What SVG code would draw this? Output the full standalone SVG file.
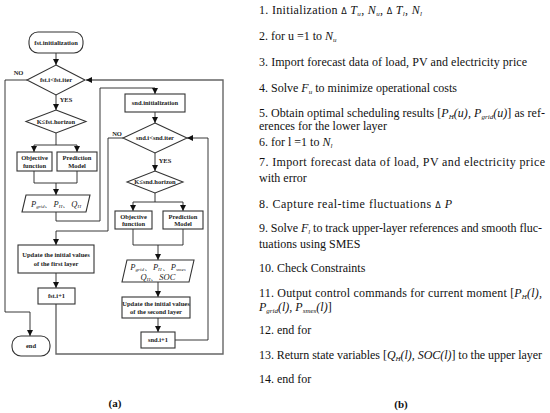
<svg xmlns="http://www.w3.org/2000/svg" width="550" height="413" viewBox="0 0 550 413">
<defs>
<marker id="ah" markerUnits="userSpaceOnUse" markerWidth="6" markerHeight="6" refX="6" refY="3" orient="auto">
<path d="M0,0 L6,3 L0,6 z" fill="#111"/>
</marker>
<style>
.box{fill:#fff;stroke:#333;stroke-width:1.1}
.ln{fill:none;stroke:#222;stroke-width:0.9}
.loop{fill:none;stroke:#666;stroke-width:1.4}
.fl{font-family:"Liberation Serif",serif;font-weight:bold;font-size:6.5px;text-anchor:middle;fill:#222}
.mv{font-family:"Liberation Serif",serif;font-style:italic;font-size:8.5px;text-anchor:middle;fill:#222}
.tx{font-family:"Liberation Serif",serif;font-size:12px;fill:#111}
.it{font-style:italic}
.sb{font-size:7px;font-style:italic}
.dl{font-family:"DejaVu Sans",sans-serif;font-size:8px}
.cap{font-family:"Liberation Serif",serif;font-weight:bold;font-size:11px;text-anchor:middle;fill:#111}
</style>
</defs>
<rect width="550" height="413" fill="#fff"/>

<g id="connectors">
<path class="ln" d="M56,53 V65" marker-end="url(#ah)"/>
<path class="ln" d="M56,95 V110" marker-end="url(#ah)"/>
<path class="ln" d="M27,80 H5 V312 H30 V336" marker-end="url(#ah)"/>
<path class="ln" d="M56,133 V145 M34,145 H77"/>
<path class="ln" d="M34,145 V152" marker-end="url(#ah)"/>
<path class="ln" d="M77,145 V152" marker-end="url(#ah)"/>
<path class="ln" d="M34,171 V183 H77 V171"/>
<path class="ln" d="M56,183 V195" marker-end="url(#ah)"/>
<path class="ln" d="M56,212 V221 H100 V88 H155 V94" marker-end="url(#ah)"/>
<path class="ln" d="M155,112 V123" marker-end="url(#ah)"/>
<path class="ln" d="M123,138 H108 V231 H56 V245" marker-end="url(#ah)"/>
<path class="ln" d="M155,153 V171" marker-end="url(#ah)"/>
<path class="ln" d="M155,193 V202 M133,202 H183"/>
<path class="ln" d="M133,202 V211" marker-end="url(#ah)"/>
<path class="ln" d="M183,202 V211" marker-end="url(#ah)"/>
<path class="ln" d="M133,229 V245 H183 V229"/>
<path class="ln" d="M158,245 V260" marker-end="url(#ah)"/>
<path class="ln" d="M158,282 V297" marker-end="url(#ah)"/>
<path class="ln" d="M158,318 V332" marker-end="url(#ah)"/>
<path class="ln" d="M175,340 H208 V138 H187" marker-end="url(#ah)"/>
<path class="ln" d="M56,273 V288" marker-end="url(#ah)"/>
<path class="loop" d="M56,304 V354 H223 V80 H86" marker-end="url(#ah)"/>
<text class="fl" x="18.5" y="74.5">NO</text>
<text class="fl" x="66" y="102">YES</text>
<text class="fl" x="117" y="135.5">NO</text>
<text class="fl" x="165" y="162.5">YES</text>
</g>

<g id="fst_init">
<rect class="box" x="29" y="32" width="54" height="21" rx="9"/>
<text class="fl" x="56" y="44.8">fst.initialization</text>
</g>
<g id="fst_iter">
<path class="box" d="M56,65 L85,80 L56,95 L27,80 Z"/>
<text class="fl" x="56" y="82.3">fst.i&lt;fst.iter</text>
</g>
<g id="fst_horizon">
<path class="box" d="M56,110 L86,121.5 L56,133 L26,121.5 Z"/>
<text class="fl" x="56" y="123.8">K≤fst.horizon</text>
</g>
<g id="fst_obj">
<rect class="box" x="17" y="152" width="35" height="19"/>
<text class="fl" x="34.5" y="160">Objective</text>
<text class="fl" x="34.5" y="167.5">function</text>
</g>
<g id="fst_pred">
<rect class="box" x="57" y="152" width="40" height="19"/>
<text class="fl" x="77" y="160">Prediction</text>
<text class="fl" x="77" y="167.5">Model</text>
</g>
<g id="fst_out">
<path class="box" d="M26,195 L90,195 L86,212 L22,212 Z"/>
<text class="mv" x="56" y="206.5">P<tspan font-size="5" dy="1.5">grid</tspan><tspan dy="-1.5">、P</tspan><tspan font-size="5" dy="1.5">H</tspan><tspan dy="-1.5">、Q</tspan><tspan font-size="5" dy="1.5">H</tspan></text>
</g>
<g id="fst_update">
<rect class="box" x="18" y="245" width="76" height="28"/>
<text class="fl" x="56" y="257">Update the initial values</text>
<text class="fl" x="56" y="266">of the first layer</text>
</g>
<g id="fst_inc">
<rect class="box" x="38" y="288" width="37" height="16"/>
<text class="fl" x="56.5" y="298.3">fst.i+1</text>
</g>
<g id="end">
<rect class="box" x="12" y="336" width="38" height="20" rx="9"/>
<text class="fl" x="31" y="348.3">end</text>
</g>

<g id="snd_init">
<rect class="box" x="125" y="94" width="60" height="18"/>
<text class="fl" x="155" y="105.3">snd.initialization</text>
</g>
<g id="snd_iter">
<path class="box" d="M155,123 L187,138 L155,153 L123,138 Z"/>
<text class="fl" x="155" y="140.3">snd.i&lt;snd.iter</text>
</g>
<g id="snd_horizon">
<path class="box" d="M155,171 L183,182 L155,193 L127,182 Z"/>
<text class="fl" x="155" y="184.3">K≤snd.horizon</text>
</g>
<g id="snd_obj">
<rect class="box" x="115" y="211" width="37" height="18"/>
<text class="fl" x="133.5" y="218.5">Objective</text>
<text class="fl" x="133.5" y="226">function</text>
</g>
<g id="snd_pred">
<rect class="box" x="163" y="211" width="40" height="18"/>
<text class="fl" x="183" y="218.5">Prediction</text>
<text class="fl" x="183" y="226">Model</text>
</g>
<g id="snd_out">
<path class="box" d="M127,260 L194,260 L189,282 L122,282 Z"/>
<text class="mv" x="158" y="269.5">P<tspan font-size="5" dy="1.5">grid</tspan><tspan dy="-1.5">、P</tspan><tspan font-size="5" dy="1.5">H</tspan><tspan dy="-1.5">、P</tspan><tspan font-size="5" dy="1.5">smes</tspan></text>
<text class="mv" x="158" y="279.5">Q<tspan font-size="5" dy="1.5">H</tspan><tspan dy="-1.5">、SOC</tspan></text>
</g>
<g id="snd_update">
<rect class="box" x="122" y="297" width="68" height="21"/>
<text class="fl" x="156" y="305.5">Update the initial values</text>
<text class="fl" x="156" y="313.5">of the second layer</text>
</g>
<g id="snd_inc">
<rect class="box" x="141" y="332" width="34" height="16"/>
<text class="fl" x="158" y="342.3">snd.i+1</text>
</g>

<text class="cap" x="115" y="407">(a)</text>

<g id="algorithm">
<text class="tx" x="259" y="14" textLength="163" lengthAdjust="spacing">1. Initialization  <tspan class="dl">Δ</tspan><tspan class="it"> T</tspan><tspan class="sb" dy="2">u</tspan><tspan dy="-2">, </tspan><tspan class="it">N</tspan><tspan class="sb" dy="2">u</tspan><tspan dy="-2">,  </tspan><tspan class="dl">Δ</tspan><tspan class="it"> T</tspan><tspan class="sb" dy="2">l</tspan><tspan dy="-2">, </tspan><tspan class="it">N</tspan><tspan class="sb" dy="2">l</tspan></text>
<text class="tx" x="259" y="40">2. for u =1 to <tspan class="it">N</tspan><tspan class="sb" dy="2">u</tspan></text>
<text class="tx" x="259" y="66" textLength="268" lengthAdjust="spacing">3. Import forecast data of load, PV and electricity price</text>
<text class="tx" x="259" y="92" textLength="198" lengthAdjust="spacing">4. Solve <tspan class="it">F</tspan><tspan class="sb" dy="2">u</tspan><tspan dy="-2"> to minimize operational costs</tspan></text>
<text class="tx" x="259" y="117" textLength="286" lengthAdjust="spacing">5. Obtain optimal scheduling results [<tspan class="it">P</tspan><tspan class="sb" dy="2">H</tspan><tspan class="it" dy="-2">(u), P</tspan><tspan class="sb" dy="2">grid</tspan><tspan class="it" dy="-2">(u)</tspan>] as ref-</text>
<text class="tx" x="259" y="130">erences for the lower layer</text>
<text class="tx" x="259" y="146">6. for l =1 to <tspan class="it">N</tspan><tspan class="sb" dy="2">l</tspan></text>
<text class="tx" x="259" y="166" textLength="286" lengthAdjust="spacing">7. Import forecast data of load, PV and electricity price</text>
<text class="tx" x="259" y="182">with error</text>
<text class="tx" x="259" y="208" textLength="193" lengthAdjust="spacing">8. Capture real-time fluctuations  <tspan class="dl">Δ</tspan><tspan class="it"> P</tspan></text>
<text class="tx" x="259" y="232" textLength="283" lengthAdjust="spacing">9. Solve <tspan class="it">F</tspan><tspan class="sb" dy="2">l</tspan><tspan dy="-2"> to track upper-layer references and smooth fluc-</tspan></text>
<text class="tx" x="259" y="248">tuations using SMES</text>
<text class="tx" x="259" y="272">10. Check Constraints</text>
<text class="tx" x="259" y="297" textLength="283" lengthAdjust="spacing">11. Output control commands for current moment [<tspan class="it">P</tspan><tspan class="sb" dy="2">H</tspan><tspan class="it" dy="-2">(l),</tspan></text>
<text class="tx" x="259" y="311"><tspan class="it">P</tspan><tspan class="sb" dy="2">grid</tspan><tspan class="it" dy="-2">(l), P</tspan><tspan class="sb" dy="2">smes</tspan><tspan class="it" dy="-2">(l)</tspan>]</text>
<text class="tx" x="259" y="334">12. end for</text>
<text class="tx" x="259" y="359" textLength="283" lengthAdjust="spacing">13. Return state variables [<tspan class="it">Q</tspan><tspan class="sb" dy="2">H</tspan><tspan class="it" dy="-2">(l), SOC(l)</tspan>] to the upper layer</text>
<text class="tx" x="259" y="383">14. end for</text>
</g>
<text class="cap" x="401" y="408">(b)</text>
</svg>
